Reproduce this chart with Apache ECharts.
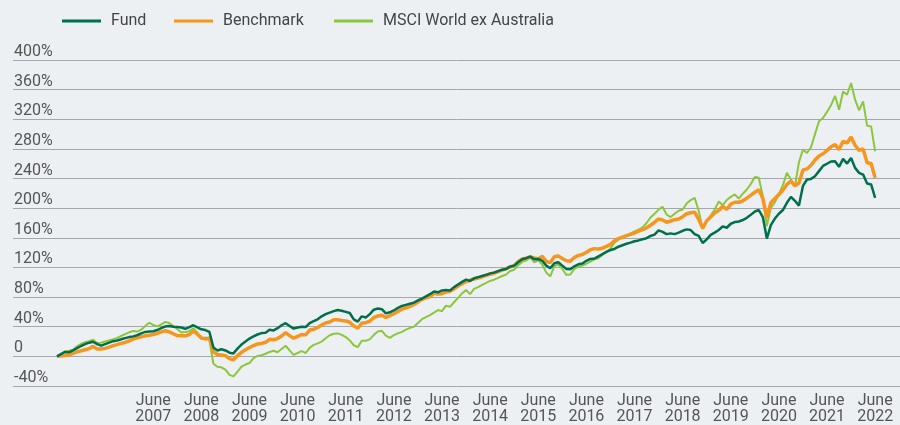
<!DOCTYPE html>
<html>
<head>
<meta charset="utf-8">
<script src="https://cdn.jsdelivr.net/npm/echarts@6/dist/echarts.min.js"></script>
<style>
html,body{margin:0;padding:0;background:#edf0f3;}
#chart{width:900px;height:425px;}
</style>
</head>
<body>
<div id="chart"></div>
<script>
// Monthly cumulative returns (%) from June 2005 (index 0) to June 2022 (index 204)
const startYear = 2005;
const startMonth = 6; // June

const fund = [
0,3,6,5.5,8,11,14,16.5,18.5,19.7,16.5,14.5,
16.6,18.5,20.5,21.5,23,24.6,26,27,28.5,31,33,33.5,
34,35.5,38,40.4,41,40,39.5,39,37,39.5,42,39,
36.5,35.5,33,12,8,9.5,8,5,4,10.5,16,20,
24,27,29.5,31.4,32,36,35,38,42,44.8,41,37.5,
39,40,39.5,45,47.5,50,54,57,59,61,62.5,61.5,
60,58.5,50,47,54,52.5,57,63,64.5,63.7,58,59.5,
62,65.5,68,69.5,71,72.5,75.5,78,81,83.9,87.5,86.5,
89,89.5,89,93.5,97,100.5,103.5,101.8,105.5,107,108.5,110,
112,113,115,117,118,121,122.5,127,131,132.5,134.6,131,
131.5,129,122.5,119,125.6,127,122.5,118,117.5,121.5,124.2,125.4,
129,131.5,132,135,138,141,143.5,145,148,150,152,153.5,
155.4,156.5,158,159.5,162.5,164.4,170,168,165,166,165,167,
169.5,171.4,170.5,165,162.5,153,158,164,167,170.5,175.5,173.6,
179,181.2,182,184,187,191,195.5,197.5,188,159,177,186,
192.5,197.5,207.3,215.3,210,203.5,230,238.7,239.5,243,250,257,
260,263,263.3,255.8,266.5,260.2,267.8,254.4,247.7,245.4,233.3,232,
214
];

const benchmark = [
0,0.5,1,2,4,6,7.5,9,10.5,13.5,10,10,
10.8,12.5,14.5,15.8,17.5,18.8,21,23.5,25,26.5,27.7,28.5,
29.5,31,33,34.5,33,30.5,28,27.7,27.7,29.5,34,30,
25,23.3,25,6,2.5,1.7,1,-3,-4.5,1,5.5,9,
12,14.5,16.8,17.5,19,23,22.5,24,27.5,32,28,24.5,
27,29.5,29,35.5,36.5,39,42.5,45,46.5,49.5,49.5,48.5,
47.8,46,41,38,45,45.5,47.5,52.5,54.5,55.6,52.5,55,
57.5,60.5,63.7,65.5,67.5,70,73.5,77,79,80.7,85,84,
84.5,87,88,91,95,98,101,103,104.5,105.7,107.5,109.5,
110.8,112.5,114.5,116.5,118.5,121,122.5,128,131.4,132.5,134.5,133,
131.5,135,128,126.5,134.6,135.4,132,129,128.5,133.5,136.3,137.4,
140.5,144,145.4,144.8,146,148.5,151.2,156,159,161,163,164.6,
166.5,169,171,173.5,177,181,185.5,184,181,182.7,184.5,185.5,
188.5,192.5,193.8,194.7,185,173,183,188,193.5,197,202.5,198.3,
205.5,208,208,210,213.5,217.5,221.5,225,213,187,207.3,213,
218.5,224.5,232,236.4,230,234,251.5,253,258,265,270.5,273.5,
278,283,285.8,279.1,290.3,288.1,296.1,284.9,278.1,280,261.2,260.2,
241
];

const msci = [
0,3,6.5,7.6,9,13.5,17,19,20.5,22.4,17.9,18.5,
20,21.5,23,25,27.5,30,32.5,34.3,33.5,36,41,45.5,
42.3,40.5,43,46.5,45,41,37,32.3,33,34,38,32,
23.3,25.6,22,-10,-14,-14.8,-18,-25,-27,-20.5,-14,-11,
-9,-2.5,0.5,1.5,3.5,6,7.5,5.5,10,14.3,8,2,
4.5,7,4.5,11.5,15.5,17.5,20,24.5,28.5,30.5,31,29,
26,21.5,15,12.5,21,21,23,29,33.5,34.5,28,25,
28.7,31,33,36,38.5,40,45,50.2,53,55.6,59,62.5,
61,68.5,67,73,79,85,89.6,84,91,93.5,96.5,99.3,
101.8,103.5,106,108.5,110.5,115.2,117,123,127.5,129.5,133.2,127,
129.5,124,113,108,121.9,124,118,110,110.5,118,121,122.5,
125,128,131,132.5,137,141.5,145.4,153.5,157.5,160.5,163,166,
168.5,171,174,180,187.5,192.5,198,202,191.5,188,192.5,196.5,
198.2,206.4,211,214,196.5,172,183,190,198,209,204,211,
215.3,218.5,213,219.5,225.2,232.5,242,241,216,175.8,200.5,208,
219,231,247.7,238.7,229.7,262,279,274.6,282,300,317.2,321.7,
330,339,351.7,332.9,357.6,353.1,368.9,346.4,332,344.1,311.4,310.4,
276.8
];

const seriesNames = ['Fund', 'Benchmark', 'MSCI World ex Australia'];
const tickYears = [2007,2008,2009,2010,2011,2012,2013,2014,2015,2016,2017,2018,2019,2020,2021,2022];
const tickMonthName = 'June';
const yTicks = [-40,0,40,80,120,160,200,240,280,320,360,400];

function toPairs(arr){ return arr.map((v,i)=>[i,v]); }
const tickIdx = tickYears.map(y => (y - startYear) * 12 + (6 - startMonth));

const FONT = 'Roboto, "Noto Sans", sans-serif';
const chart = echarts.init(document.getElementById('chart'), null, {renderer:'canvas'});

function legendFor(name, left, h){
  return {
    data:[name], left:left, top:8, icon:'rect', itemWidth:39, itemHeight:h,
    textStyle:{fontFamily:FONT, fontSize:16, color:'#444', padding:[0,0,0,5]},
    selectedMode:false
  };
}

const option = {
  backgroundColor:'#edf0f3',
  animation:false,
  legend:[
    legendFor(seriesNames[0], 57, 3),
    legendFor(seriesNames[1], 169, 3),
    legendFor(seriesNames[2], 329, 3)
  ],
  grid:{left:13, right:0, top:60, bottom:38, containLabel:false},
  xAxis:{
    type:'value', min:-10.97, max:210.2,
    axisLine:{show:false}, axisTick:{show:false}, splitLine:{show:false},
    axisLabel:{
      customValues: tickIdx,
      margin:7,
      fontFamily:FONT, fontSize:16, color:'#555', lineHeight:16,
      formatter:function(v){
        const k = tickIdx.indexOf(Math.round(v));
        return k >= 0 ? tickMonthName + '\n' + tickYears[k] : '';
      }
    }
  },
  yAxis:{
    type:'value', min:yTicks[0], max:yTicks[yTicks.length-1], interval:40,
    axisLine:{show:false}, axisTick:{show:false},
    splitLine:{show:true, lineStyle:{color:'#a4a8ad', width:1}},
    axisLabel:{
      inside:true, margin:1, verticalAlign:'bottom', padding:[0,0,0,0], lineHeight:16,
      fontFamily:FONT, fontSize:16, color:'#555',
      formatter:function(v){ return v === 0 ? '0' : v + '%'; }
    }
  },
  series:[
    {name:seriesNames[2], type:'line', data:toPairs(msci), symbol:'none',
     lineStyle:{color:'#8cc63e', width:2}, itemStyle:{color:'#8cc63e'}, z:2},
    {name:seriesNames[1], type:'line', data:toPairs(benchmark), symbol:'none',
     lineStyle:{color:'#f7961f', width:3.5}, itemStyle:{color:'#f7961f'}, z:3},
    {name:seriesNames[0], type:'line', data:toPairs(fund), symbol:'none',
     lineStyle:{color:'#006f4b', width:2.5}, itemStyle:{color:'#006f4b'}, z:4}
  ]
};
chart.setOption(option);
</script>
</body>
</html>
